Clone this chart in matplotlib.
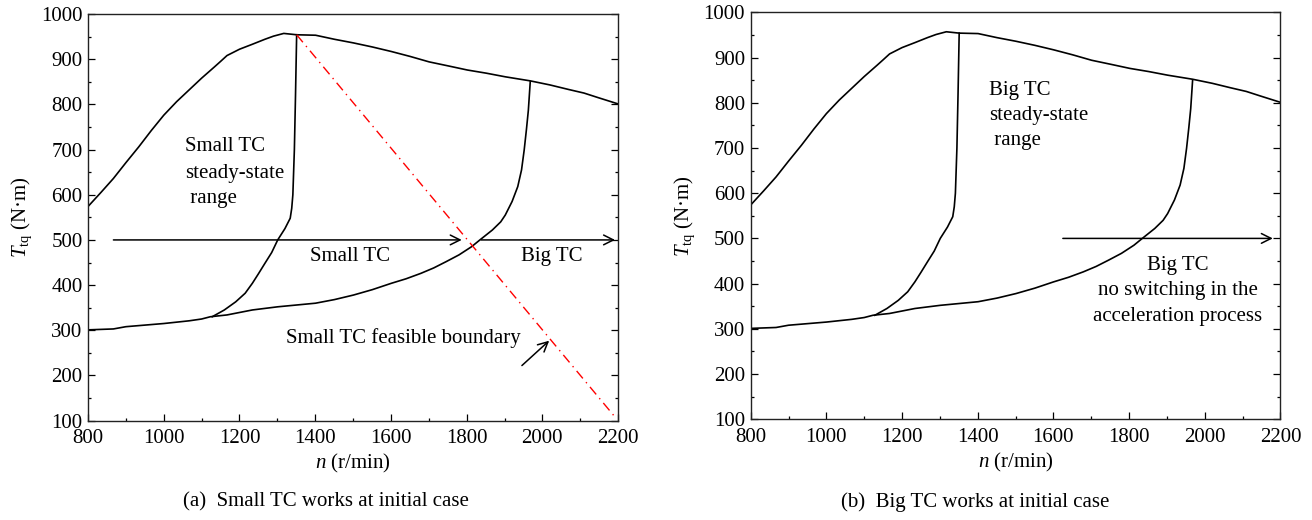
import matplotlib
matplotlib.use('Agg')
import matplotlib.pyplot as plt
from matplotlib.ticker import MultipleLocator

plt.rcParams['font.family'] = ['Liberation Serif', 'DejaVu Serif']
plt.rcParams['mathtext.fontset'] = 'custom'
plt.rcParams['mathtext.rm'] = 'Liberation Serif'
plt.rcParams['mathtext.it'] = 'Liberation Serif:italic'

# 外特性曲线 (upper envelope)
n_env = [800, 834, 867, 900, 934, 967, 1000, 1034, 1067, 1100, 1134, 1150, 1167,
         1200, 1234, 1267, 1290, 1317, 1351, 1401, 1451, 1501, 1551, 1601,
         1651, 1701, 1752, 1802, 1852, 1902, 1968, 2020, 2069, 2110, 2147, 2200]
T_env = [574, 605, 636, 671, 706, 742, 776, 806, 832, 858, 883, 895, 908,
         922, 933, 944, 951, 957, 954, 953, 944, 936, 927, 917,
         906, 894, 885, 876, 869, 861, 852, 843, 833, 825, 815, 801]

# 下边界及大涡轮稳态边界
n_low = [800, 867, 900, 1000, 1067, 1100, 1123, 1167, 1234, 1301, 1401, 1451, 1501,
         1551, 1601, 1640, 1679, 1713, 1746, 1780, 1813, 1835, 1868, 1890, 1902,
         1920, 1935, 1945, 1952, 1958, 1963, 1968]
T_low = [301, 303, 308, 315, 321, 325, 330, 334, 345, 352, 360, 368, 378,
         390, 404, 414, 426, 438, 452, 467, 485, 500, 522, 540, 555,
         585, 618, 655, 699, 745, 787, 850]

# 小涡轮稳态边界
n_small = [1128, 1160, 1190, 1215, 1234, 1250, 1267, 1285, 1301, 1320, 1334,
           1338, 1341, 1345, 1348, 1351]
T_small = [330, 345, 363, 382, 404, 425, 448, 472, 500, 525, 548,
           570, 600, 700, 820, 954]

# 小涡轮可行边界 (red dash-dot)
n_bound = [1351, 2190]
T_bound = [954, 110]

x_ticks = [800, 1000, 1200, 1400, 1600, 1800, 2000, 2200]
y_ticks = [100, 200, 300, 400, 500, 600, 700, 800, 900, 1000]

fig = plt.figure(figsize=(13.12, 5.2), dpi=100)
ax1 = fig.add_axes([0.0671, 0.1910, 0.4040, 0.7821])
ax2 = fig.add_axes([0.5722, 0.1937, 0.4037, 0.7826])


def base_plot(ax):
    ax.plot(n_env, T_env, color='black', lw=1.2)
    ax.plot(n_low, T_low, color='black', lw=1.2)
    ax.plot(n_small, T_small, color='black', lw=1.2)
    ax.set_xlim(800, 2200)
    ax.set_ylim(100, 1000)
    ax.set_xticks(x_ticks)
    ax.set_yticks(y_ticks)
    ax.xaxis.set_minor_locator(MultipleLocator(100))
    ax.yaxis.set_minor_locator(MultipleLocator(50))
    ax.tick_params(which='both', direction='in', left=True, right=True,
                   top=False, bottom=True, labelsize=15)
    ax.tick_params(which='major', length=5, width=0.9)
    ax.tick_params(which='minor', length=2.5, width=0.9)
    ax.tick_params(axis='x', pad=6)
    ax.tick_params(axis='y', pad=4)
    for s in ax.spines.values():
        s.set_linewidth(1.0)
        s.set_color('#222222')
    ax.set_xlabel('$n$ (r/min)', fontsize=15, labelpad=3)
    ax.set_ylabel(r'$T_{\mathrm{tq}}$ (N·m)', fontsize=15, labelpad=5)


def arrow(ax, start, end):
    ax.annotate('', xy=end, xytext=start,
                arrowprops=dict(arrowstyle='->,head_length=0.7,head_width=0.35',
                                lw=1.1, color='black', shrinkA=0, shrinkB=0))


# (a) 小涡轮初始工作
base_plot(ax1)
ax1.plot(n_bound, T_bound, color='red', lw=1.0, dashes=(7, 3.5, 1, 3.5))
arrow(ax1, (867, 500), (1787, 500))
arrow(ax1, (1838, 500), (2192, 500))
arrow(ax1, (1946, 222), (2018, 277))
ax1.text(1056, 706, 'Small TC', fontsize=15, va='center', ha='left')
ax1.text(1056, 647, 'steady-state', fontsize=15, va='center', ha='left')
ax1.text(1056, 591, ' range', fontsize=15, va='center', ha='left')
ax1.text(1492, 463, 'Small TC', fontsize=15, va='center', ha='center')
ax1.text(2024, 463, 'Big TC', fontsize=15, va='center', ha='center')
ax1.text(1323, 283, 'Small TC feasible boundary', fontsize=15, va='center', ha='left')

# (b) 大涡轮初始工作
base_plot(ax2)
arrow(ax2, (1625, 500), (2180, 500))
ax2.text(1431, 828, 'Big TC', fontsize=15, va='center', ha='left')
ax2.text(1431, 772, 'steady-state', fontsize=15, va='center', ha='left')
ax2.text(1431, 716, ' range', fontsize=15, va='center', ha='left')
ax2.text(1928, 439, 'Big TC', fontsize=15, va='center', ha='center')
ax2.text(1928, 384, 'no switching in the', fontsize=15, va='center', ha='center')
ax2.text(1928, 327, 'acceleration process', fontsize=15, va='center', ha='center')

fig.text(325.5 / 1312, 1 - 502 / 520, '(a)  Small TC works at initial case',
         fontsize=15, ha='center', va='center')
fig.text(975 / 1312, 1 - 502 / 520, '(b)  Big TC works at initial case',
         fontsize=15, ha='center', va='center')

fig.savefig('out.png', dpi=100)
